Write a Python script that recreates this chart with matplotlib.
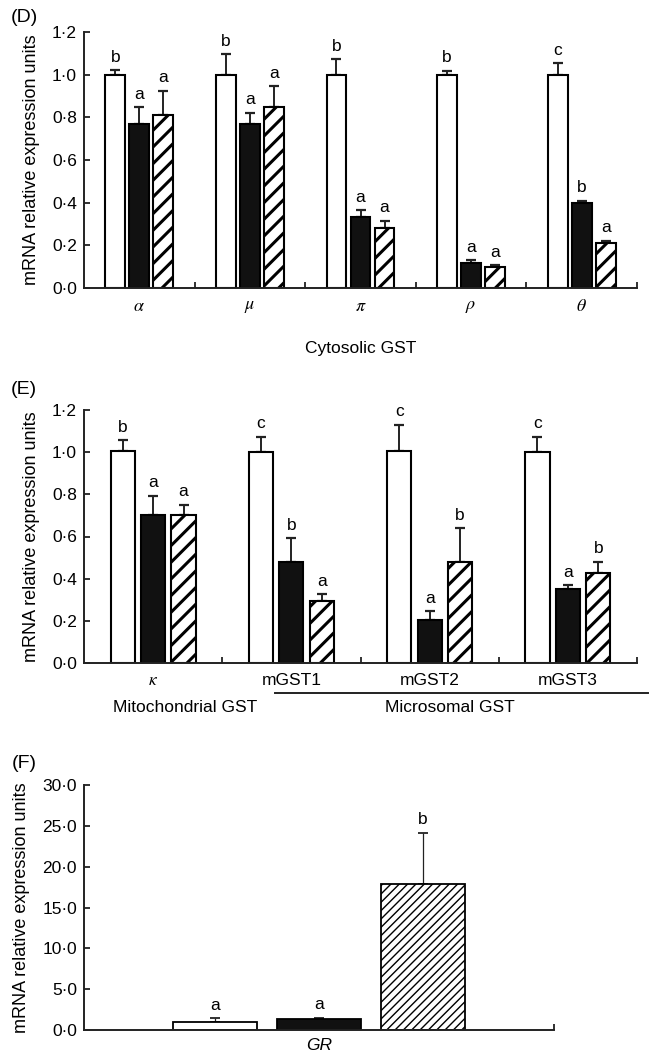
import numpy as np
import matplotlib
matplotlib.use('Agg')
import matplotlib.pyplot as plt
from matplotlib.ticker import FuncFormatter, MultipleLocator
from matplotlib.lines import Line2D

plt.rcParams['font.family'] = ['Liberation Sans', 'DejaVu Sans']
plt.rcParams['font.size'] = 12.5
plt.rcParams['mathtext.fontset'] = 'stix'

# ---- data ----
# (D) cytosolic GST
d_genes = [r'$\alpha$', r'$\mu$', r'$\pi$', r'$\rho$', r'$\theta$']
d_white = [1.00, 1.00, 1.00, 1.00, 1.00]
d_white_err = [0.022, 0.097, 0.072, 0.019, 0.053]
d_black = [0.77, 0.77, 0.334, 0.116, 0.397]
d_black_err = [0.077, 0.052, 0.032, 0.015, 0.012]
d_hatch = [0.811, 0.85, 0.28, 0.097, 0.209]
d_hatch_err = [0.114, 0.097, 0.036, 0.009, 0.013]
d_letters = [['b', 'a', 'a'], ['b', 'a', 'a'], ['b', 'a', 'a'], ['b', 'a', 'a'], ['c', 'b', 'a']]

# (E) mitochondrial / microsomal GST
e_genes = [r'$\kappa$', 'mGST1', 'mGST2', 'mGST3']
e_white = [1.005, 1.00, 1.005, 1.00]
e_white_err = [0.053, 0.073, 0.125, 0.073]
e_black = [0.70, 0.48, 0.206, 0.353]
e_black_err = [0.093, 0.112, 0.041, 0.016]
e_hatch = [0.703, 0.293, 0.477, 0.427]
e_hatch_err = [0.048, 0.032, 0.164, 0.053]
e_letters = [['b', 'a', 'a'], ['c', 'b', 'a'], ['c', 'a', 'b'], ['c', 'a', 'b']]

# (F) GR
f_vals = [1.0, 1.35, 17.85]
f_err = [0.43, 0.15, 6.3]
f_letters = ['a', 'a', 'b']

ylab = 'mRNA relative expression units'
dot_fmt = FuncFormatter(lambda v, p: f'{v:.1f}'.replace('.', '\u00b7'))

fig = plt.figure(figsize=(6.49, 10.55), dpi=100)
W, H = 649, 1055


def add_ax(left, top, right, bottom):
    return fig.add_axes([left / W, 1 - bottom / H, (right - left) / W, (bottom - top) / H])


def style(ax):
    for s in ['top', 'right']:
        ax.spines[s].set_visible(False)
    for s in ['left', 'bottom']:
        ax.spines[s].set_linewidth(1.4)
        ax.spines[s].set_color('#222222')
    ax.tick_params(axis='both', which='major', direction='in', length=4, width=1.3, color='#222222')
    ax.tick_params(axis='y', pad=5)
    ax.yaxis.set_major_formatter(dot_fmt)


def hatched_bar(ax, x, h, w, hatch, hlw, lw):
    with plt.rc_context({'hatch.linewidth': hlw}):
        bars = ax.bar(x, h, w, color='white', edgecolor='black', linewidth=lw,
                      hatch=hatch, zorder=2)
    for b in bars:
        if hasattr(b, 'set_hatch_linewidth'):
            b.set_hatch_linewidth(hlw)
    return bars


def grouped(ax, white, werr, black, berr, hatch, herr, letters, off, width):
    n = len(white)
    x = np.arange(n) + 0.5
    ax.bar(x - off, white, width, color='white', edgecolor='black', linewidth=1.5, zorder=2)
    ax.bar(x, black, width, color='#111111', edgecolor='black', linewidth=1.5, zorder=2)
    hatched_bar(ax, x + off, hatch, width, '//', 2.2, 1.5)
    sets = [(x - off, white, werr), (x, black, berr), (x + off, hatch, herr)]
    for xs, v, e in sets:
        ax.errorbar(xs, v, yerr=[np.zeros(n), e], fmt='none', ecolor='#222222',
                    elinewidth=1.4, capsize=3.5, capthick=1.6, zorder=1)
    for i in range(n):
        for k, (xs, v, e) in enumerate(sets):
            ax.annotate(letters[i][k], (xs[i], v[i] + e[i]), xytext=(0, 6),
                        textcoords='offset points', ha='center', va='baseline')
    ax.set_xlim(0, n)
    ax.set_ylim(0, 1.2)
    ax.yaxis.set_major_locator(MultipleLocator(0.2))
    ax.set_xticks(np.arange(1, n + 1))
    ax.set_xticklabels([])
    ax.set_xticks(x, minor=True)
    ax.tick_params(axis='x', which='minor', length=0, pad=7)


# ---- (D) ----
axd = add_ax(84, 32, 637, 288)
style(axd)
grouped(axd, d_white, d_white_err, d_black, d_black_err, d_hatch, d_hatch_err,
        d_letters, 0.217, 0.18)
axd.set_xticklabels(d_genes, minor=True, fontsize=13)
axd.set_ylabel(ylab, labelpad=9, fontsize=13)
axd.set_xlabel('Cytosolic GST', labelpad=19)

# ---- (E) ----
axe = add_ax(84, 410, 637, 663)
style(axe)
grouped(axe, e_white, e_white_err, e_black, e_black_err, e_hatch, e_hatch_err,
        e_letters, 0.22, 0.175)
axe.set_xticklabels(e_genes, minor=True)
axe.set_ylabel(ylab, labelpad=9, fontsize=13)
tr = axe.get_xaxis_transform()
axe.text(0.73, -0.175, 'Mitochondrial GST', transform=tr, ha='center', va='center')
axe.text(2.65, -0.175, 'Microsomal GST', transform=tr, ha='center', va='center')
axe.add_line(Line2D([1.38, 4.08], [-0.12, -0.12], transform=tr, color='#222222',
                    linewidth=1.4, clip_on=False))

# ---- (F) ----
axf = add_ax(84, 785, 554, 1030)
style(axf)
fx = np.arange(3)
axf.bar(fx[0], f_vals[0], 0.8, color='white', edgecolor='black', linewidth=1.3, zorder=2)
axf.bar(fx[1], f_vals[1], 0.8, color='#111111', edgecolor='black', linewidth=1.3, zorder=2)
hatched_bar(axf, fx[2], f_vals[2], 0.8, '////', 1.0, 1.3)
axf.errorbar(fx, f_vals, yerr=[np.zeros(3), f_err], fmt='none', ecolor='#222222',
             elinewidth=0.9, capsize=3.5, capthick=1.3, zorder=1)
for i in range(3):
    axf.annotate(f_letters[i], (fx[i], f_vals[i] + f_err[i]), xytext=(0, 6),
                 textcoords='offset points', ha='center', va='baseline')
axf.set_xlim(-1.26, 3.26)
axf.set_ylim(0, 30)
axf.yaxis.set_major_locator(MultipleLocator(5))
axf.set_xticks([3.26])
axf.set_xticklabels([])
axf.set_xticks([1], minor=True)
axf.set_xticklabels(['GR'], minor=True, fontstyle='italic')
axf.tick_params(axis='x', which='minor', length=0, pad=6)
axf.set_ylabel(ylab, labelpad=9, fontsize=13)

# panel letters
for lab, yp in [('(D)', 18), ('(E)', 390), ('(F)', 763)]:
    fig.text(24 / W, 1 - yp / H, lab, ha='center', va='center', fontsize=14)

fig.savefig('out.png', dpi=100)
